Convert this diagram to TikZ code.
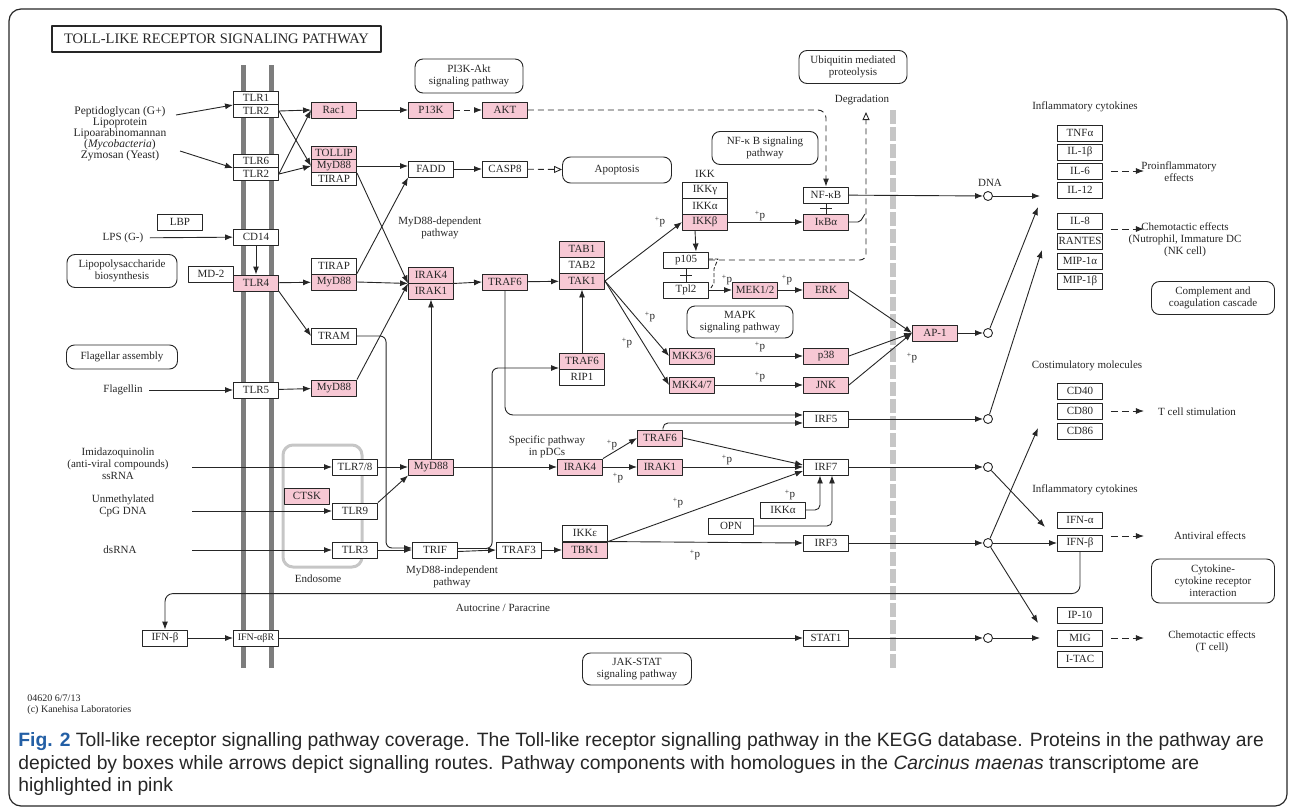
\documentclass[tikz,border=0pt]{standalone}
\usepackage{fontspec}
\setmainfont{Liberation Serif}
\newfontfamily\capfont{Liberation Sans}
\usetikzlibrary{arrows.meta}

\definecolor{hitpink}{RGB}{247,200,212}
\definecolor{membr}{RGB}{125,125,125}
\definecolor{figblue}{RGB}{35,95,165}
\newcommand{\kf}{\fontsize{11}{12}\selectfont}
\newcommand{\pp}{\textsuperscript{+}p}

\tikzset{
  gene/.style={draw, fill=white, rectangle, minimum width=45pt, minimum height=16pt, inner sep=0pt, font=\kf},
  hit/.style={gene, fill=hitpink},
  thin/.style={minimum height=13pt},
  pway/.style={draw, rounded corners=8pt, inner sep=0pt, align=center, font=\kf},
  txt/.style={inner sep=0pt, align=center, font=\kf},
  act/.style={-{Latex[length=8pt,width=6pt]}},
  brk/.style={dash pattern=on 6pt off 4pt},
  eff/.style={-{Latex[length=8pt,width=6pt]}, dash pattern=on 7pt off 4pt},
  dna/.style={circle, draw, fill=white, minimum size=9pt, inner sep=0pt},
  capline/.style={anchor=west, inner sep=0pt, font={\capfont\fontsize{19.3}{22}\selectfont}},
}

\begin{document}
\begin{tikzpicture}[x=1pt, y=-1pt, line width=0.9pt, color=black!85, line join=round]
\useasboundingbox (0,0) rectangle (1292,811);
\draw[line width=1.2pt, rounded corners=12pt] (9,9) rectangle (1287,806);

% membranes and compartments
\draw[membr, line width=5pt] (243,65) -- (243,668);
\draw[membr, line width=5pt] (271,65) -- (271,668);
\draw[gray!45, line width=6pt, dash pattern=on 14pt off 3pt] (893,110) -- (893,670);
\draw[gray!45, line width=3pt, rounded corners=10pt] (283,445) rectangle (362,567);

\node[draw, line width=2pt, minimum width=329pt, minimum height=26pt, inner sep=0pt,
  font=\fontsize{14.5}{15}\selectfont] (title) at (216.5,39) {TOLL-LIKE RECEPTOR SIGNALING PATHWAY};

% pathway maps
\node[pway, minimum width=108pt, minimum height=34pt] (pi3kP) at (469,76) {PI3K-Akt\\signaling pathway};
\node[pway, minimum width=108pt, minimum height=33pt] (ubqP) at (853,67) {Ubiquitin mediated\\proteolysis};
\node[pway, minimum width=106pt, minimum height=33pt] (nfkbP) at (765,148) {NF-κ B signaling\\pathway};
\node[pway, minimum width=110pt, minimum height=33pt] (lpsP) at (122,271) {Lipopolysaccharide\\biosynthesis};
\node[pway, minimum width=111pt, minimum height=24pt] (flagP) at (122,357) {Flagellar assembly};
\node[pway, minimum width=106pt, minimum height=32pt] (mapkP) at (740,322) {MAPK\\signaling pathway};
\node[pway, minimum width=109pt, minimum height=32pt] (jakP) at (637,669) {JAK-STAT\\signaling pathway};
\node[pway, minimum width=123pt, minimum height=33pt] (complP) at (1213,298) {Complement and\\coagulation cascade};
\node[pway, minimum width=123pt, minimum height=44pt] (cytoP) at (1213,581) {Cytokine-\\cytokine receptor\\interaction};
\node[pway, minimum width=109pt, minimum height=26pt] (apop) at (617,170) {Apoptosis};

% receptors
\node[gene, thin] (tlrA1) at (256,98) {TLR1};
\node[gene, thin] (tlrA2) at (256,111) {TLR2};
\node[gene, thin] (tlrB6) at (256,161) {TLR6};
\node[gene, thin] (tlrB2) at (256,174) {TLR2};
\node[gene] (lbp) at (180,222) {LBP};
\node[gene] (cd14) at (256,237) {CD14};
\node[gene] (md2) at (211,274) {MD-2};
\node[hit] (tlr4) at (256,283) {TLR4};
\node[gene] (tlr5) at (256,390) {TLR5};
\node[hit] (ctsk) at (307,496) {CTSK};
\node[gene] (tlr78) at (355,467) {TLR7/8};
\node[gene] (tlr9) at (355,511) {TLR9};
\node[gene] (tlr3) at (355,550) {TLR3};
\node[gene] (ifnbL) at (165,638) {IFN-β};
\node[gene, font=\fontsize{10}{11}\selectfont] (ifnr) at (256,638) {IFN-αβR};

% adaptors and kinases
\node[hit] (rac1) at (334,110) {Rac1};
\node[hit] (pik) at (431,110) {P13K};
\node[hit] (akt) at (505,110) {AKT};
\node[hit, thin] (tollip) at (334,153) {TOLLIP};
\node[hit, thin] (myd88a) at (334,166) {MyD88};
\node[gene, thin] (tirapA) at (334,179) {TIRAP};
\node[gene] (fadd) at (431,169) {FADD};
\node[gene] (casp8) at (505,169) {CASP8};
\node[gene] (tirapB) at (334,266) {TIRAP};
\node[hit] (myd88b) at (334,282) {MyD88};
\node[gene] (tram) at (334,336) {TRAM};
\node[hit] (myd88c) at (334,388) {MyD88};
\node[hit] (irak4) at (431,275) {IRAK4};
\node[hit] (irak1) at (431,291) {IRAK1};
\node[hit] (traf6) at (505,282) {TRAF6};
\node[hit] (tab1) at (582,249) {TAB1};
\node[gene] (tab2) at (582,265) {TAB2};
\node[hit] (tak1) at (582,281) {TAK1};
\node[hit] (traf6b) at (582,361) {TRAF6};
\node[gene] (rip1) at (582,377) {RIP1};
\node[hit] (myd88d) at (431,467) {MyD88};
\node[hit] (irak4b) at (580,467) {IRAK4};
\node[hit] (traf6c) at (660,438) {TRAF6};
\node[hit] (irak1b) at (660,467) {IRAK1};
\node[gene] (trif) at (435,550) {TRIF};
\node[gene] (traf3) at (519,550) {TRAF3};
\node[gene] (ikke) at (585,533) {IKKε};
\node[hit] (tbk1) at (585,550) {TBK1};
\node[gene] (ikkg) at (705,190) {IKKγ};
\node[gene] (ikka) at (705,206) {IKKα};
\node[hit] (ikkb) at (705,222) {IKKβ};
\node[gene] (nfkb) at (826,195) {NF-κB};
\node[hit] (ikba) at (826,222) {IκBα};
\node[gene] (p105) at (686,260) {p105};
\node[gene] (tpl2) at (686,290) {Tpl2};
\node[hit] (mek) at (755,290) {MEK1/2};
\node[hit] (erk) at (826,290) {ERK};
\node[hit] (mkk36) at (692,356) {MKK3/6};
\node[hit] (mkk47) at (692,385) {MKK4/7};
\node[hit] (p38) at (826,356) {p38};
\node[hit] (jnk) at (826,385) {JNK};
\node[hit] (ap1) at (935,333) {AP-1};
\node[gene] (irf5) at (826,419) {IRF5};
\node[gene] (irf7) at (826,467) {IRF7};
\node[gene] (ikka2) at (783,510) {IKKα};
\node[gene] (opn) at (731,526) {OPN};
\node[gene] (irf3) at (826,543) {IRF3};
\node[gene] (stat1) at (826,638) {STAT1};

% products
\node[gene] (tnfa) at (1080,133) {TNFα};
\node[gene] (il1b) at (1080,152) {IL-1β};
\node[gene] (il6) at (1080,171) {IL-6};
\node[gene] (il12) at (1080,190) {IL-12};
\node[gene] (il8) at (1080,221) {IL-8};
\node[gene] (rantes) at (1080,241) {RANTES};
\node[gene] (mip1a) at (1080,261) {MIP-1α};
\node[gene] (mip1b) at (1080,281) {MIP-1β};
\node[gene] (cd40) at (1080,391) {CD40};
\node[gene] (cd80) at (1080,411) {CD80};
\node[gene] (cd86) at (1080,431) {CD86};
\node[gene] (ifna) at (1080,520) {IFN-α};
\node[gene] (ifnb) at (1080,543) {IFN-β};
\node[gene] (ip10) at (1080,615) {IP-10};
\node[gene] (mig) at (1080,638) {MIG};
\node[gene] (itac) at (1080,659) {I-TAC};

\node[dna] (dnaC) at (988,196) {};
\node[dna] (ap1C) at (988,333) {};
\node[dna] (irf5C) at (988,419) {};
\node[dna] (irf7C) at (988,467) {};
\node[dna] (irf3C) at (988,543) {};
\node[dna] (stat1C) at (988,638) {};

% free texts
\node[txt, font=\fontsize{11.5}{11}\selectfont] (ligA) at (120,134) {Peptidoglycan (G+)\\Lipoprotein\\Lipoarabinomannan\\(\textit{Mycobacteria})\\Zymosan (Yeast)};
\node[txt] (lpsT) at (123,238) {LPS (G-)};
\node[txt] (flagT) at (123,390) {Flagellin};
\node[txt] (imidT) at (118,464) {Imidazoquinolin\\(anti-viral compounds)\\ssRNA};
\node[txt] (cpgT) at (123,506) {Unmethylated\\CpG DNA};
\node[txt] (dsT) at (120,550) {dsRNA};
\node[txt] (mydDep) at (440,228) {MyD88-dependent\\pathway};
\node[txt] (mydInd) at (452,577) {MyD88-independent\\pathway};
\node[txt] (pdc) at (547,447) {Specific pathway\\in pDCs};
\node[txt] (endo) at (318,579) {Endosome};
\node[txt] (autoT) at (503,608) {Autocrine / Paracrine};
\node[txt] (ikkT) at (705,174) {IKK};
\node[txt] (degT) at (862,100) {Degradation};
\node[txt] (dnaT) at (990,183) {DNA};
\node[txt] (inflA) at (1085,107) {Inflammatory cytokines};
\node[txt] (costT) at (1087,366) {Costimulatory molecules};
\node[txt] (inflB) at (1085,490) {Inflammatory cytokines};
\node[txt] (proT) at (1179,172) {Proinflammatory\\effects};
\node[txt] (chemA) at (1185,240) {Chemotactic effects\\(Nutrophil, Immature DC\\(NK cell)};
\node[txt] (tcellT) at (1197,412) {T cell stimulation};
\node[txt] (antiT) at (1210,536) {Antiviral effects};
\node[txt] (chemB) at (1212,642) {Chemotactic effects\\(T cell)};
\node[txt, anchor=north west, align=left, font=\fontsize{10}{11}\selectfont] (stamp) at (27,694) {04620 6/7/13\\(c) Kanehisa Laboratories};
\foreach \px/\py [count=\k] in {660/222, 760/216, 727/280, 787/280, 650/317, 627/343, 760/347, 760/377,
    912/358, 612/445, 618/478, 727/460, 678/503, 790/495, 695/555}
  \node[txt] (pp\k) at (\px,\py) {\pp};

% free ends
\coordinate (srcA) at (176,115);
\coordinate (srcB) at (180,151);
\coordinate (imidE) at (192,467);
\coordinate (cpgE) at (192,511);
\coordinate (dsE) at (192,550);
\coordinate (degr) at (866,112);
\coordinate (gA) at (1040,196);
\coordinate (gB) at (1038,207);
\coordinate (gC) at (1042,250);
\coordinate (gD) at (1038,428);
\coordinate (gE) at (1045,527);
\coordinate (gF) at (1038,623);
\coordinate (gG) at (1040,638);

% receptor inputs
\draw[act] (srcA) -- (tlrA1.south west);
\draw[act] (srcB) -- (tlrB6.south west);
\draw[act, shorten <=6pt] (lpsT) -- (cd14);
\draw[act, shorten <=6pt] (flagT) -- (tlr5);
\draw[act] (imidE) -- (tlr78);
\draw[act] (cpgE) -- (tlr9);
\draw[act] (dsE) -- (tlr3);
\draw[act] (cd14) -- (tlr4);

% MyD88-dependent
\draw[act] (tlrA2.east) -- (rac1.west);
\draw[act] (tlrA2.east) -- (myd88a.west);
\draw[act] (tlrB2.east) -- (rac1.west);
\draw[act] (tlrB2.east) -- (myd88a.west);
\draw[act] (rac1) -- (pik);
\draw[act, brk] (pik) -- (akt);
\draw[act, brk, rounded corners=8pt] (akt.east) -| (nfkb.north);
\draw[act] (myd88a.east) -- (myd88a.east -| fadd.west);
\draw[act] (fadd) -- (casp8);
\draw[brk, -{Triangle[open,length=8pt,width=7pt]}] (casp8) -- (apop);
\draw[act] (myd88a.south east) -- (irak4.south west);
\draw[act] (myd88b.north east) -- (fadd.south west);
\draw[act] (myd88b.east) -- (irak4.south west);
\draw[act] (myd88c.north east) -- (irak4.south west);
\draw[act] (tlr4) -- (myd88b);
\draw[act] (tlr4.south east) -- (tram.west);
\draw[act] (tlr5) -- (myd88c);
\draw[act] (irak4.south east) -- (traf6.west);
\draw[act] (traf6) -- (tak1);
\draw[act] (traf6b) -- (tak1);
\draw[act, rounded corners=8pt] (traf6.south) |- ([yshift=4pt]irf5.west);

% endosomal TLRs
\draw[act] (tlr78) -- (myd88d);
\draw[act] (tlr9.north east) -- (myd88d.south west);
\draw[act] (myd88d) -- (irak1);
\draw[act] (myd88d) -- (irak4b);
\draw[act] (irak4b.north east) -- (traf6c.west);
\draw[act] (irak4b) -- (irak1b);
\draw[act] (irak1b) -- (irf7);
\draw[act] (traf6c.east) -- ([yshift=2pt]irf7.west);
\draw[act, rounded corners=5pt] ([xshift=3pt]traf6c.north) |- ([yshift=-4pt]irf5.west);

% MyD88-independent
\draw[act, rounded corners=6pt] (tram.east) -| ([xshift=-26pt,yshift=2pt]trif.west) -- ([yshift=2pt]trif.west);
\draw[act] (tlr3) -- (trif);
\draw[act, rounded corners=6pt] ([yshift=1.5pt]trif.east) -| ([xshift=-67pt,yshift=-7pt]traf6b.west) -- ([yshift=-7pt]traf6b.west);
\draw[act] ([yshift=-1.5pt]trif.east) -- (traf3.west);
\draw[act] (traf3) -- (tbk1);
\draw[act] (tbk1.north east) -- (irf3.west);
\draw[act] (tbk1.north east) -- ([yshift=-4pt]irf7.west);
\draw[act, rounded corners=5pt] (ikka2.east) -| ([xshift=-6pt]irf7.south);
\draw[act, rounded corners=5pt] (opn.east) -| ([xshift=6pt]irf7.south);

% NF-kB and MAPK
\draw[act] (tak1.east) -- (ikkb.west);
\draw[act] (tak1.east) -- (mkk36.west);
\draw[act] (tak1.east) -- (mkk47.west);
\draw[act] (ikkb) -- (ikba);
\draw[act] ([xshift=-10pt]ikkb.south) -- ([xshift=10pt]p105.north);
\draw (nfkb) -- (ikba);
\draw ([xshift=-6pt,yshift=-5pt]nfkb.south) -- ([xshift=6pt,yshift=-5pt]nfkb.south);
\draw (p105) -- (tpl2);
\draw ([xshift=-6pt,yshift=-7pt]p105.south) -- ([xshift=6pt,yshift=-7pt]p105.south);
\draw[brk, -{Triangle[open,length=8pt,width=7pt]}, rounded corners=6pt] (p105.east) -| (degr);
\draw[rounded corners=2pt] (ikba.east) -- ++(11,0) -- ++(5,-8);
\draw[dash pattern=on 4pt off 2pt] ([yshift=1pt]p105.east) -- ++(9,0) -- ++(-4,10) -- ++(0,14) -- ++(-3,5);
\draw[act] (tpl2) -- (mek);
\draw[act] (mek) -- (erk);
\draw[act] (mkk36) -- (p38);
\draw[act] (mkk47) -- (jnk);
\draw[act] (erk.east) -- (ap1.west);
\draw[act] (p38.east) -- (ap1.west);
\draw[act] (jnk.east) -- (ap1.west);

% transcription
\draw[act] (nfkb) -- (dnaC);
\draw[act] (ap1) -- (ap1C);
\draw[act] (irf5) -- (irf5C);
\draw[act] (irf7) -- (irf7C);
\draw[act] (irf3) -- (irf3C);
\draw[act] (stat1) -- (stat1C);
\draw[act] (dnaC) -- (gA);
\draw[act] (ap1C) -- (gB);
\draw[act] (irf5C) -- (gC);
\draw[act] (irf3C) -- (gD);
\draw[act] (irf7C) -- (gE);
\draw[act] (irf3C) -- (ifnb);
\draw[act] (irf3C) -- (gF);
\draw[act] (stat1C) -- (gG);
\draw[eff] ([xshift=8pt]il6.east) -- ++(33,0);
\draw[eff] ([xshift=8pt,yshift=-8pt]il8.east) -- ++(33,0);
\draw[eff] ([xshift=8pt]cd80.east) -- ++(33,0);
\draw[eff] ([xshift=8pt,yshift=7pt]ifnb.east) -- ++(33,0);
\draw[eff] ([xshift=8pt]mig.east) -- ++(33,0);

% autocrine loop
\draw[act, rounded corners=8pt] (ifnb.south) |- ([yshift=36pt]ifnbL.north) -- (ifnbL.north);
\draw[act] (ifnbL) -- (ifnr);
\draw[act] (ifnr) -- (stat1);

% caption
\node[capline] (cap1) at (18,742)
  {{\color{figblue}\bfseries Fig. 2} Toll-like receptor signalling pathway coverage. The Toll-like receptor signalling pathway in the KEGG database. Proteins in the pathway are};
\node[capline] (cap2) at (18,764)
  {depicted by boxes while arrows depict signalling routes. Pathway components with homologues in the \textit{Carcinus maenas} transcriptome are};
\node[capline] (cap3) at (18,786) {highlighted in pink};
\end{tikzpicture}
\end{document}
